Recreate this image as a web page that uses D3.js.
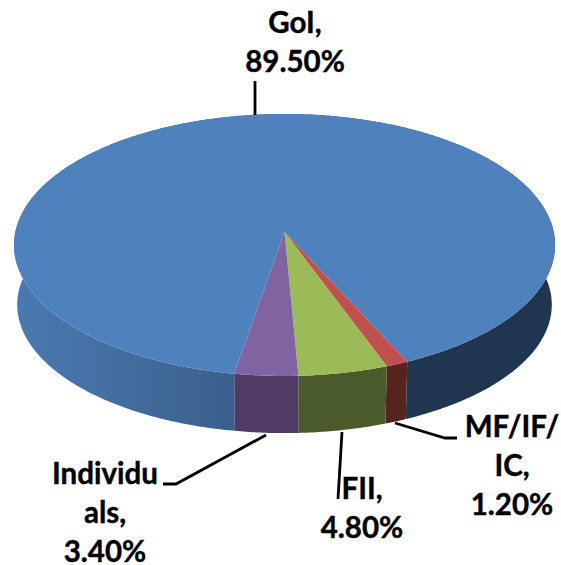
<!DOCTYPE html>
<html lang="en">
<head>
<meta charset="utf-8">
<title>Shareholding</title>
<script src="https://cdn.jsdelivr.net/npm/d3@7/dist/d3.min.js"></script>
<style>
	html, body { margin: 0; padding: 0; background: #fff; }
	text { font-family: Lato, "Open Sans", sans-serif; font-weight: 700; font-size: 29.5px; fill: #000; stroke: #000; stroke-width: 0.4px; text-anchor: middle; }
</style>
</head>
<body>
<script>
// values as printed on the chart labels
var categories = ["GoI", "MF/IF/IC", "FII", "Individuals"];
var shares = [89.5, 1.2, 4.8, 3.4];
var topColors = ["#4f81bd", "#c0504d", "#9bbb59", "#8064a2"];
var sideColors = ["url(#blueSide)", "#57231f", "#4b5a2b", "#4f3b63"];
var labelLines = [["GoI,", "89.50%"], ["MF/IF/", "IC,", "1.20%"], ["FII,", "4.80%"], ["Individu", "als,", "3.40%"]];

var w = 561, h = 565;
var svg = d3.select("body").append("svg").attr("width", w).attr("height", h).style("display", "block");

// left part of the blue wall is lit, right part is dark
var grad = svg.append("defs").append("linearGradient")
	.attr("id", "blueSide").attr("gradientUnits", "userSpaceOnUse")
	.attr("x1", 14).attr("x2", 555).attr("y1", 0).attr("y2", 0);
[[0, "#4a7ab2"], [0.41, "#3a5f8b"], [0.72, "#1f3550"], [1, "#1f3550"]].forEach(function(s) {
	grad.append("stop").attr("offset", s[0]).attr("stop-color", s[1]);
});

// pie angles run clockwise from the back of the disc
var startDeg = -170.3;
var pie = d3.pie().sort(null).value(function(d) { return d; })
	.startAngle(startDeg * Math.PI / 180)
	.endAngle((startDeg + 360) * Math.PI / 180);
var arcs = pie(shares);

// tilted disc with a bit of perspective, near edge is bigger
var cx = 284.5, cy = 232, rx = 269.2, ry = 129.7, k = 0.0992;
function project(a, top) {
	var u = Math.sin(a), v = -Math.cos(a), s = 1 - k * v;
	if (top) return [cx + rx * u / s, cy + ry * v / s];
	return [cx + rx * 0.988 * u / s, cy + 60 + ry * 0.98 * v / s];
}

function samples(d) {
	var n = Math.max(2, Math.ceil((d.endAngle - d.startAngle) / 0.01));
	return d3.range(n + 1).map(function(i) {
		return d.startAngle + (d.endAngle - d.startAngle) * i / n;
	});
}

var line = d3.line();

// walls first, the top face covers whatever is hidden
svg.append("g").selectAll("path").data(arcs).enter().append("path")
	.attr("fill", function(d, i) { return sideColors[i]; })
	.attr("d", function(d) {
		var a = samples(d);
		var pts = a.map(function(t) { return project(t, true); })
			.concat(a.slice().reverse().map(function(t) { return project(t, false); }));
		return line(pts) + "Z";
	});

svg.append("g").selectAll("path").data(arcs).enter().append("path")
	.attr("fill", function(d, i) { return topColors[i]; })
	.attr("d", function(d) {
		var pts = samples(d).map(function(t) { return project(t, true); });
		return line([[cx, cy]].concat(pts)) + "Z";
	});

// leader lines
var leaders = [
	[[255, 81], [255, 115]],
	[[395, 423], [445, 438], [457, 438]],
	[[342, 432], [338, 499]],
	[[266, 435], [176, 484], [163, 484]]
];
svg.append("g").selectAll("path").data(leaders).enter().append("path")
	.attr("fill", "none").attr("stroke", "#000").attr("stroke-width", 2.8)
	.attr("d", function(d) { return line(d); });

// labels
var labelPos = [[295, 33], [512, 437], [362, 499], [105, 484]];
labelLines.forEach(function(lines, i) {
	var t = svg.append("text").attr("x", labelPos[i][0]).attr("y", labelPos[i][1]);
	lines.forEach(function(s, j) {
		t.append("tspan").attr("x", labelPos[i][0]).attr("y", labelPos[i][1] + j * 39).text(s);
	});
});
</script>
</body>
</html>
